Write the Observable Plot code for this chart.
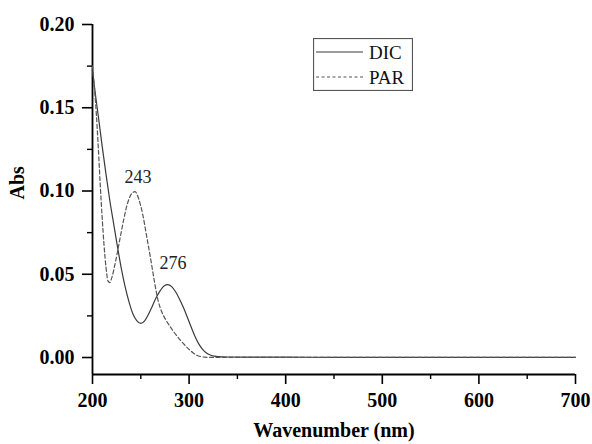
<!DOCTYPE html>
<html><head><meta charset="utf-8">
<script src="https://cdn.jsdelivr.net/npm/d3@7"></script>
<script src="https://cdn.jsdelivr.net/npm/@observablehq/plot@0.6"></script>
<style>
html,body{margin:0;padding:0;background:#fff}
#wrap{position:relative;width:592px;height:444px}
#wrap svg, #wrap svg text{font-family:"Liberation Serif","Times New Roman",serif !important}
#legend{position:absolute;left:313px;top:38px}
</style>
</head><body>
<div id="wrap"></div>
<script>
// ---- data ----
const dicWl  = [200,203,206,210,214,218,222,226,230,234,238,242,246,250,254,258,262,266,270,274,278,282,286,290,294,298,302,306,310,314,318,322,326,330,340,360,400,450,500,550,600,650,700];
const dicAbs = [0.172,0.158,0.145,0.127,0.110,0.094,0.080,0.066,0.053,0.042,0.033,0.026,0.022,0.0205,0.022,0.026,0.031,0.036,0.040,0.0430,0.0438,0.0426,0.0395,0.0352,0.0302,0.0245,0.0185,0.0128,0.0082,0.0049,0.0027,0.0015,0.0008,0.0005,0.0003,0.0002,0.0002,0.0001,0.0001,0.0001,0.0001,0.0001,0.0001];
const parWl  = [200,202,204,206,208,210,212,214,216,218,220,224,228,232,236,240,244,248,252,256,260,264,268,272,276,280,284,288,292,296,300,304,308,312,316,320,340,400,500,600,700];
const parAbs = [0.175,0.162,0.146,0.126,0.104,0.084,0.067,0.054,0.046,0.045,0.048,0.058,0.070,0.082,0.092,0.098,0.0996,0.095,0.086,0.073,0.060,0.046,0.034,0.027,0.0225,0.0188,0.0155,0.0125,0.0097,0.0072,0.0049,0.0029,0.0014,0.0006,0.0002,0.0001,0.0001,0.0001,0.0001,0.0001,0.0001];
const seriesNames = ["DIC", "PAR"];
const peakWl   = [243, 276];
const peakAbs  = [0.0996, 0.0438];
const peakText = ["243", "276"];
const xDomain = [200, 700];
const yDomain = [-0.0102, 0.2];
const xMajor = [200, 300, 400, 500, 600, 700];
const xMinor = [250, 350, 450, 550, 650];
const yMajor = [0, 0.05, 0.10, 0.15, 0.20];
const yMinor = [0.025, 0.075, 0.125, 0.175];
const xTitle = "Wavenumber (nm)";
const yTitle = "Abs";

const dic = dicWl.map((w, i) => ({wl: w, abs: dicAbs[i]}));
const par = parWl.map((w, i) => ({wl: w, abs: parAbs[i]}));

const serif = "Liberation Serif, Times New Roman, serif";
const solidColor = "#3a3a3a";
const dashColor = "#555";

const chart = Plot.plot({
  width: 592, height: 444,
  marginLeft: 92, marginRight: 17, marginTop: 24, marginBottom: 70,
  x: {domain: xDomain},
  y: {domain: yDomain},
  style: {fontFamily: serif, background: "white", color: "black", overflow: "visible"},
  marks: [
    Plot.axisX(xMajor, {tickSize: 10, tickPadding: 8, tickFormat: d => String(d), fontFamily: serif, fontSize: 20, fontWeight: "bold", strokeWidth: 1.6, label: null}),
    Plot.axisX(xMinor, {tickSize: 5, tickFormat: () => "", strokeWidth: 1.4, label: null}),
    Plot.axisY(yMajor, {tickSize: 10, tickPadding: 8, tickFormat: d3.format(".2f"), fontFamily: serif, fontSize: 20, fontWeight: "bold", strokeWidth: 1.6, label: null}),
    Plot.axisY(yMinor, {tickSize: 5, tickFormat: () => "", strokeWidth: 1.4, label: null}),
    Plot.ruleX([xDomain[0]], {stroke: "black", strokeWidth: 1.8}),
    Plot.ruleY([yDomain[0]], {stroke: "black", strokeWidth: 1.8}),
    Plot.line(dic, {x: "wl", y: "abs", stroke: solidColor, strokeWidth: 1.2, curve: "monotone-x"}),
    Plot.line(par, {x: "wl", y: "abs", stroke: dashColor, strokeWidth: 1.2, strokeDasharray: "4,2.5", curve: "monotone-x"}),
    Plot.text([0], {x: () => peakWl[0], y: () => peakAbs[0], text: () => peakText[0], dx: 4, dy: -14, fontFamily: serif, fontSize: 18, fill: "#222"}),
    Plot.text([0], {x: () => peakWl[1], y: () => peakAbs[1], text: () => peakText[1], dx: 7, dy: -21, fontFamily: serif, fontSize: 18, fill: "#222"}),
    Plot.text([xTitle], {text: d => d, frameAnchor: "bottom", dy: 62, fontFamily: serif, fontSize: 20, fontWeight: "bold", fill: "black"}),
    Plot.text([yTitle], {text: d => d, frameAnchor: "left", rotate: -90, dx: -75, fontFamily: serif, fontSize: 20, fontWeight: "bold", fill: "black"})
  ]
});
const wrap = document.getElementById("wrap");
wrap.appendChild(chart);

// legend (inside plot area)
const ns = "http://www.w3.org/2000/svg";
const lg = document.createElementNS(ns, "svg");
lg.setAttribute("id", "legend");
lg.setAttribute("width", 100);
lg.setAttribute("height", 53);
const box = document.createElementNS(ns, "rect");
box.setAttribute("x", 0.5); box.setAttribute("y", 0.5);
box.setAttribute("width", 99); box.setAttribute("height", 52);
box.setAttribute("fill", "white"); box.setAttribute("stroke", "#555"); box.setAttribute("stroke-width", 1.2);
lg.appendChild(box);
[14, 39].forEach((cy, i) => {
  const ln = document.createElementNS(ns, "line");
  ln.setAttribute("x1", 3); ln.setAttribute("x2", 50);
  ln.setAttribute("y1", cy); ln.setAttribute("y2", cy);
  ln.setAttribute("stroke", i === 0 ? solidColor : dashColor);
  ln.setAttribute("stroke-width", 1.2);
  if (i === 1) ln.setAttribute("stroke-dasharray", "3,2.5");
  lg.appendChild(ln);
  const tx = document.createElementNS(ns, "text");
  tx.setAttribute("x", 56); tx.setAttribute("y", cy);
  tx.setAttribute("dy", "0.35em");
  tx.setAttribute("font-size", 19);
  tx.setAttribute("fill", "#111");
  tx.textContent = seriesNames[i];
  lg.appendChild(tx);
});
wrap.appendChild(lg);
</script>
</body></html>
